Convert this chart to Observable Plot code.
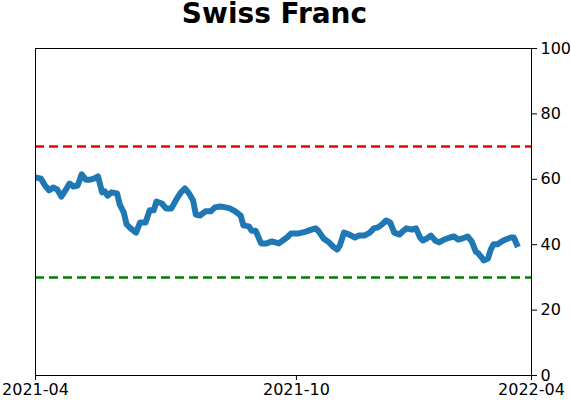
<!DOCTYPE html>
<html>
<head>
<meta charset="utf-8">
<script src="https://cdn.jsdelivr.net/npm/d3@7"></script>
<script src="https://cdn.jsdelivr.net/npm/@observablehq/plot@0.6"></script>
<style>
  html, body { margin: 0; padding: 0; background: white; }
  #wrap { position: relative; width: 571px; height: 402px; }
  #title { position: absolute; top: 0; left: 0; width: 571px; height: 30px; font-family: "DejaVu Sans", sans-serif; font-weight: bold; font-size: 28px; line-height: 28px; text-align: center; }
  #title span { display: inline-block; position: relative; left: -11px; white-space: nowrap; }
  #chart { position: absolute; top: 30px; left: 0; }
</style>
</head>
<body>
<div id="wrap">
  <div id="title"><span>Swiss Franc</span></div>
  <div id="chart"></div>
</div>
<script>
const titleText = "Swiss Franc";
const dates = [
  "2021-04-01","2021-04-05","2021-04-08","2021-04-11","2021-04-14","2021-04-17","2021-04-20","2021-04-23","2021-04-26","2021-04-29",
  "2021-05-02","2021-05-05","2021-05-08","2021-05-11","2021-05-14","2021-05-17","2021-05-20","2021-05-22","2021-05-24","2021-05-27",
  "2021-05-31","2021-06-02","2021-06-05","2021-06-07","2021-06-10","2021-06-14","2021-06-17","2021-06-21","2021-06-24","2021-06-27",
  "2021-06-29","2021-07-03","2021-07-06","2021-07-10","2021-07-14","2021-07-17","2021-07-20","2021-07-23","2021-07-26","2021-07-28",
  "2021-07-31","2021-08-04","2021-08-08","2021-08-11","2021-08-15","2021-08-19","2021-08-22","2021-08-26","2021-08-30","2021-09-01",
  "2021-09-05","2021-09-07","2021-09-10","2021-09-14","2021-09-18","2021-09-22","2021-09-27","2021-09-30","2021-10-03","2021-10-06",
  "2021-10-11","2021-10-14","2021-10-17","2021-10-21","2021-10-24","2021-10-26","2021-10-30","2021-11-03","2021-11-06","2021-11-09",
  "2021-11-11","2021-11-14","2021-11-18","2021-11-22","2021-11-25","2021-11-29","2021-12-03","2021-12-06","2021-12-09","2021-12-12",
  "2021-12-15","2021-12-18","2021-12-21","2021-12-25","2021-12-27","2021-12-30","2022-01-03","2022-01-06","2022-01-09","2022-01-11",
  "2022-01-14","2022-01-17","2022-01-20","2022-01-23","2022-01-27","2022-01-31","2022-02-03","2022-02-06","2022-02-09","2022-02-13",
  "2022-02-16","2022-02-19","2022-02-21","2022-02-25","2022-02-28","2022-03-02","2022-03-04","2022-03-07","2022-03-09","2022-03-13",
  "2022-03-17","2022-03-19","2022-03-22"
];
const values = [
  60.6,60.2,58.1,56.6,57.5,56.9,54.7,56.6,58.7,57.8,
  58.1,61.5,59.9,59.9,60.2,60.9,56.0,56.3,55.0,56.0,
  55.7,52.3,49.8,46.2,45.0,43.7,46.8,46.8,50.5,50.5,
  53.2,52.6,51.1,51.1,54.1,56.0,57.2,55.7,53.5,49.2,
  48.9,50.2,50.2,51.4,51.7,51.4,51.1,50.2,48.9,45.9,
  45.6,44.3,44.3,40.4,40.4,41.0,40.4,41.3,42.2,43.4,
  43.4,43.7,44.0,44.6,45.0,44.3,41.9,40.7,39.4,38.5,
  39.8,43.7,43.1,42.2,42.8,42.8,43.7,45.0,45.3,46.2,
  47.4,46.8,43.7,43.1,44.0,45.0,44.6,45.0,42.2,41.3,
  41.9,42.8,41.3,40.7,41.6,42.2,42.5,41.6,41.9,42.5,
  41.0,37.9,37.3,35.2,35.8,38.5,40.1,40.1,40.7,41.6,
  42.2,42.2,39.3
];
const xDomain = ["2021-04-01", "2022-04-01"];
const xTickDates = ["2021-04-01", "2021-10-10", "2022-04-01"];
const yTicks = [0, 20, 40, 60, 80, 100];
const upperLevel = [70];
const lowerLevel = [30];

const data = dates.map((d, i) => ({date: new Date(d), value: values[i]}));

const chart = Plot.plot({
  width: 571,
  height: 372,
  marginTop: 18,
  marginBottom: 27,
  marginLeft: 35,
  marginRight: 40,
  style: {fontFamily: "DejaVu Sans, sans-serif", fontSize: "16px", color: "black", background: "white"},
  x: {
    type: "utc",
    domain: xDomain.map(d => new Date(d)),
    ticks: xTickDates.map(d => new Date(d)),
    tickFormat: d3.utcFormat("%Y-%m"),
    tickSize: 5,
    tickPadding: 3,
    label: null
  },
  y: {
    domain: [0, 100],
    ticks: yTicks,
    axis: "right",
    tickSize: 5,
    tickPadding: 4,
    label: null
  },
  marks: [
    Plot.ruleY(upperLevel, {stroke: "#ee0000", strokeWidth: 2.5, strokeDasharray: "9,5"}),
    Plot.ruleY(lowerLevel, {stroke: "#008000", strokeWidth: 2.5, strokeDasharray: "9,5"}),
    Plot.line(data, {x: "date", y: "value", stroke: "#1f77b4", strokeWidth: 6, strokeLinejoin: "round", strokeLinecap: "butt"}),
    Plot.frame({stroke: "black", strokeWidth: 1})
  ]
});
document.getElementById("chart").appendChild(chart);
</script>
</body>
</html>
